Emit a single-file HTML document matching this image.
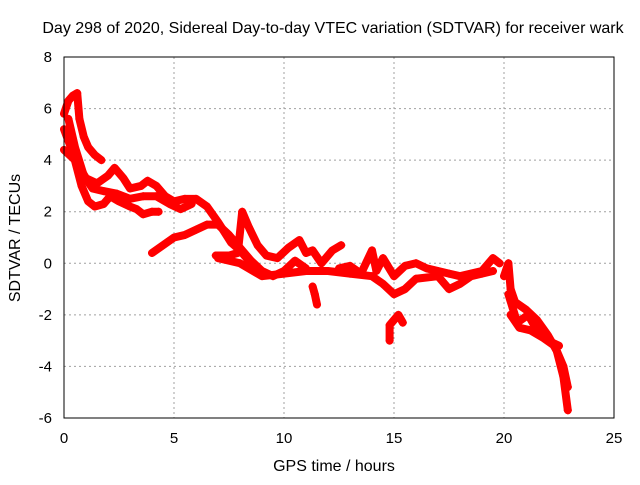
<!DOCTYPE html>
<html><head><meta charset="utf-8"><style>
body{margin:0;background:#fff;}
svg text{font-family:"Liberation Sans",sans-serif;}
</style></head><body>
<svg id="c" width="640" height="480">
<text x="333" y="33" font-size="16" text-anchor="middle">Day 298 of 2020, Sidereal Day-to-day VTEC variation (SDTVAR) for receiver wark</text>
<text x="334" y="471" font-size="16" text-anchor="middle">GPS time / hours</text>
<text transform="translate(20,238) rotate(-90)" font-size="16" text-anchor="middle">SDTVAR / TECUs</text>
<g id="grid"></g><g id="ticks"></g><g id="data"></g>
<rect x="64" y="57" width="550" height="361" fill="none" stroke="#000" stroke-width="1"/>
</svg>
<script>
const xTicks=[0,5,10,15,20,25];
const yTicks=[-6,-4,-2,0,2,4,6,8];
const t1x=[0,0.2,0.4,0.6,0.7,0.9,1.1,1.4,1.7];
const t1y=[5.8,6.3,6.5,6.6,5.6,4.9,4.5,4.2,4.0];
const t2x=[0,0.5,1,1.5,2,2.3,2.7,3,3.5,3.8,4.2,4.6,5,5.5,6,6.5,7,7.3,7.6,8,8.5];
const t2y=[4.4,4.0,3.3,3.1,3.4,3.7,3.3,2.9,3.0,3.2,3.0,2.6,2.4,2.5,2.5,2.2,1.6,1.2,0.8,0.5,0.0];
const t3x=[0,0.4,0.8,1.1,1.4,1.8,2.1,2.5,3,3.3,3.6,4,4.3];
const t3y=[5.2,4.3,3.0,2.4,2.2,2.3,2.6,2.4,2.2,2.1,1.9,2.0,2.0];
const t4x=[0.2,0.5,0.9,1.3,1.8,2.4,3,3.6,4.2,4.8,5.3,5.8];
const t4y=[5.6,4.5,3.4,2.9,2.8,2.7,2.5,2.6,2.6,2.3,2.1,2.3];
const t5x=[4,4.5,5,5.5,6,6.5,7,7.5,8,8.5,9,9.5,10,10.5,11];
const t5y=[0.4,0.7,1.0,1.1,1.3,1.5,1.5,1.1,0.6,0.1,-0.3,-0.5,-0.3,0.1,-0.2];
const t6x=[6.9,7.5,7.9,8.1,8.4,8.8,9.2,9.7,10.2,10.7,11,11.3,11.7,12.2,12.6];
const t6y=[0.3,0.3,0.4,2.0,1.4,0.7,0.3,0.2,0.6,0.9,0.4,0.5,0.0,0.5,0.7];
const t7x=[7,8,9,10,11,12,13,14,14.5,15,15.5,16,17,17.5,18,18.5,19,19.5];
const t7y=[0.2,0.0,-0.5,-0.4,-0.3,-0.3,-0.4,-0.5,-0.8,-1.2,-1.0,-0.6,-0.5,-1.0,-0.8,-0.5,-0.4,-0.3];
const t8x=[12.5,13,13.5,14,14.2,14.5,15,15.5,16,16.5,17,17.5,18,19,19.5,19.8];
const t8y=[-0.2,-0.1,-0.4,0.5,-0.3,0.2,-0.5,-0.1,0.0,-0.2,-0.3,-0.4,-0.5,-0.3,0.2,0.0];
const t9x=[11.3,11.4,11.5];
const t9y=[-0.9,-1.2,-1.6];
const t10x=[14.8,14.8,15.0,15.2,15.4];
const t10y=[-3.0,-2.4,-2.2,-2.0,-2.3];
const t11x=[20,20.2,20.3,20.5,21,21.5,22,22.4,22.7,22.9];
const t11y=[-0.5,0.0,-1.0,-1.5,-1.8,-2.2,-2.8,-3.4,-4.4,-5.7];
const t12x=[20.3,20.7,21.2,21.8,22.3,22.7,22.9];
const t12y=[-2.0,-2.5,-2.6,-2.9,-3.2,-4.0,-4.8];
const t13x=[20.2,20.6,21.1,21.5,22.0,22.5];
const t13y=[-1.2,-2.3,-2.0,-2.6,-3.0,-3.2];
const tracks=[[t1x,t1y],[t2x,t2y],[t3x,t3y],[t4x,t4y],[t5x,t5y],[t6x,t6y],[t7x,t7y],[t8x,t8y],[t9x,t9y],[t10x,t10y],[t11x,t11y],[t12x,t12y],[t13x,t13y]];
const NS="http://www.w3.org/2000/svg";
const X=v=>64+v*22, Y=v=>418-(v+6)*(361/14);
const grid=document.getElementById('grid'),ticks=document.getElementById('ticks'),data=document.getElementById('data');
function mk(tag,attrs,parent){const e=document.createElementNS(NS,tag);for(const k in attrs)e.setAttribute(k,attrs[k]);parent.appendChild(e);return e;}
xTicks.forEach(t=>{
  if(t>0&&t<25){const g=mk('line',{x1:X(t),x2:X(t),y1:57,y2:418,stroke:'#a0a0a0','stroke-dasharray':'2,3'},grid);
  
  }
  const l=mk('text',{x:X(t),y:443,'font-size':15,'text-anchor':'middle'},ticks);l.textContent=t;
  
  
});
yTicks.forEach(t=>{
  if(t>-6&&t<8){const g=mk('line',{x1:64,x2:614,y1:Y(t),y2:Y(t),stroke:'#a0a0a0','stroke-dasharray':'2,3'},grid);
  
  }
  const l=mk('text',{x:52,y:Y(t)+5,'font-size':15,'text-anchor':'end'},ticks);l.textContent=t;
  
  
});
tracks.forEach(([xs,ys])=>{
  const pts=xs.map((x,i)=>X(x)+','+Y(ys[i])).join(' ');
  const p=mk('polyline',{points:pts,fill:'none',stroke:'#ff0000','stroke-width':8,'stroke-linejoin':'round','stroke-linecap':'round'},data);
  
  
  xs.forEach((x,i)=>{
    const m=mk('path',{d:`M${X(x)-4},${Y(ys[i])}h8M${X(x)},${Y(ys[i])-4}v8`,stroke:'#ff0000','stroke-width':1.5},data);
    
    
  });
});
</script>
</body></html>
